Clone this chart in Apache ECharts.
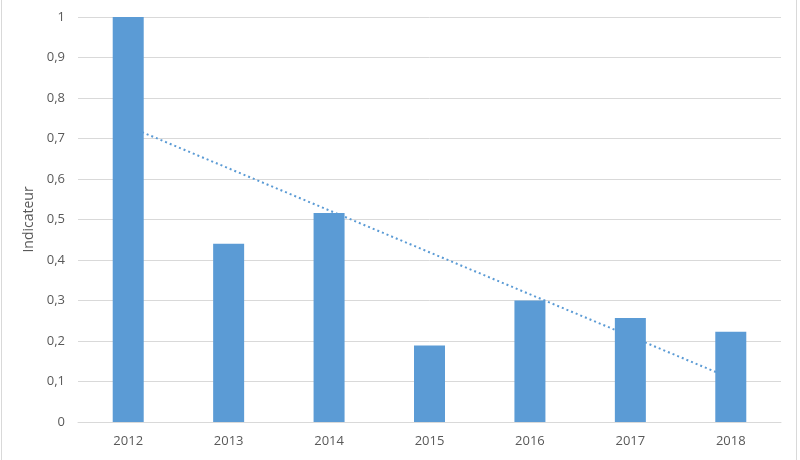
<!DOCTYPE html>
<html>
<head>
<meta charset="utf-8">
<script src="https://cdn.jsdelivr.net/npm/echarts@6/dist/echarts.min.js"></script>
<style>
html,body{margin:0;padding:0;background:#fff;}
#chart{width:800px;height:460px;}
</style>
</head>
<body>
<div id="chart"></div>
<script>
var categories = ['2012','2013','2014','2015','2016','2017','2018'];
var indicateur = [1, 0.44, 0.516, 0.189, 0.30, 0.257, 0.223];
// Linear trend line endpoints (at 2012 and 2018)
var trendStart = 0.730;
var trendEnd = 0.108;
var yTicks = [0,0.1,0.2,0.3,0.4,0.5,0.6,0.7,0.8,0.9,1];

var trendData = categories.map(function(c, i){
  if (i === 0) return trendStart;
  if (i === categories.length - 1) return trendEnd;
  return '-';
});

var chart = echarts.init(document.getElementById('chart'), null, {renderer:'canvas'});
var font = '"Open Sans", "Liberation Sans", sans-serif';
chart.setOption({
  animation:false,
  backgroundColor:'#ffffff',
  grid:{left:78, right:19, top:17, bottom:38, containLabel:false},
  xAxis:{
    type:'category',
    data:categories,
    axisLine:{show:true, lineStyle:{color:'#d9d9d9'}},
    axisTick:{show:false},
    axisLabel:{color:'#595959', fontSize:13, fontFamily:font, margin:13}
  },
  yAxis:{
    type:'value',
    min:0, max:1, interval:0.1,
    name:'Indicateur',
    nameLocation:'middle',
    nameGap:39,
    nameTextStyle:{color:'#595959', fontSize:14, fontFamily:font},
    axisLine:{show:false},
    axisTick:{show:false},
    splitLine:{lineStyle:{color:'#d9d9d9'}},
    axisLabel:{color:'#595959', fontSize:13, fontFamily:font, margin:13,
      formatter:function(v){ return (Math.round(v*10)/10).toString().replace('.', ','); }}
  },
  series:[
    {
      type:'line',
      data:trendData,
      connectNulls:true,
      symbol:'none',
      z:1,
      lineStyle:{color:'#5b9bd5', width:2, type:[2,3]}
    },
    {
      type:'bar',
      data:indicateur,
      barWidth:31,
      z:2,
      itemStyle:{color:'#5b9bd5'}
    }
  ],
  graphic:[
    {type:'line', shape:{x1:1.5,y1:0,x2:1.5,y2:460}, style:{stroke:'#d9d9d9', lineWidth:1}},
    {type:'line', shape:{x1:796.5,y1:0,x2:796.5,y2:460}, style:{stroke:'#d9d9d9', lineWidth:1}}
  ]
});
</script>
</body>
</html>
